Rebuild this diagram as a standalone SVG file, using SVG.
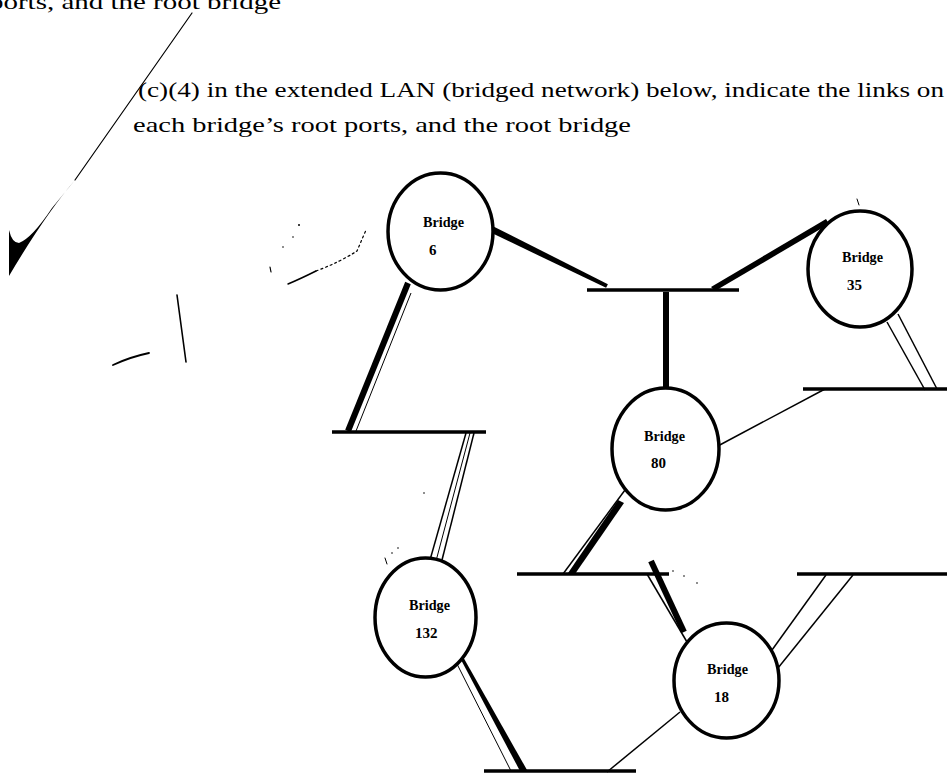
<svg xmlns="http://www.w3.org/2000/svg" width="947" height="773" viewBox="0 0 947 773">
  <style>
    .q { font-family: "Liberation Serif", "DejaVu Serif", serif; font-size: 22px; fill: #000; }
    .lbl { font-family: "Liberation Serif", "DejaVu Serif", serif; font-size: 15px; font-weight: bold; fill: #000; }
    .node { fill: #fff; stroke: #000; stroke-width: 3.5; }
    .lan { stroke: #000; stroke-width: 3.5; fill: none; }
    .thin { stroke: #000; stroke-width: 1.5; fill: none; }
    .hair { stroke: #000; stroke-width: 1; fill: none; }
    .root { stroke: #000; stroke-width: 6; fill: none; stroke-linecap: butt; }
    .mark { stroke: #000; fill: none; stroke-linecap: round; }
  </style>

  <rect width="947" height="773" fill="#fff"/>

  <!-- question text -->
  <text class="q" x="-11" y="9" textLength="292" lengthAdjust="spacingAndGlyphs">ports, and the root bridge</text>
  <text class="q" x="138" y="97" textLength="806" lengthAdjust="spacingAndGlyphs">(c)(4) in the extended LAN (bridged network) below, indicate the links on</text>
  <text class="q" x="133" y="132" textLength="498" lengthAdjust="spacingAndGlyphs">each bridge’s root ports, and the root bridge</text>

  <!-- pen marks -->
  <g id="pen-marks">
    <line class="mark" x1="192" y1="13" x2="75" y2="180" stroke-width="1.2"/>
    <path d="M75 180 Q 45 215 9 276 L 9 230 Q 12 243 19 243 Q 32 238 52 208 Z" fill="#000"/>
    <path class="mark" d="M288 284 Q 300 279 316 271" stroke-width="1.5"/>
    <path class="mark" d="M316 271 Q 340 262 357 251 L 366 230" stroke-width="1.2" stroke-dasharray="2 3"/>
    <circle cx="299" cy="225" r="1" fill="#000"/>
    <circle cx="293" cy="237" r="0.8" fill="#000"/>
    <circle cx="283" cy="247" r="0.8" fill="#000"/>
    <line class="mark" x1="270" y1="267" x2="271" y2="272" stroke-width="1.2"/>
    <line class="mark" x1="177" y1="295" x2="186" y2="362" stroke-width="1.6"/>
    <path class="mark" d="M113 365 Q 130 357 149 353" stroke-width="1.8"/>
    <line class="mark" x1="677" y1="423" x2="689" y2="407" stroke-width="0.8"/>
    <line class="mark" x1="857" y1="199" x2="859" y2="205" stroke-width="1"/>
    <path class="mark" d="M741 629 L 743 634 L 746 629" stroke-width="0.8"/>
    <path class="mark" d="M385 558 L 387 564" stroke-width="1"/>
    <circle cx="392" cy="553" r="0.8" fill="#000"/>
    <circle cx="398" cy="548" r="0.8" fill="#000"/>
    <circle cx="673" cy="571" r="0.8" fill="#000"/>
    <circle cx="684" cy="576" r="0.8" fill="#000"/>
    <circle cx="697" cy="583" r="0.8" fill="#000"/>
    <circle cx="424" cy="493" r="0.8" fill="#000"/>
  </g>

  <!-- connectors: LAN segments and bridge links -->
  <g id="connectors">
    <!-- LAN segments -->
    <line class="lan" x1="587" y1="290" x2="739" y2="290"/>
    <line class="lan" x1="803" y1="389" x2="947" y2="389"/>
    <line class="lan" x1="332" y1="432" x2="486" y2="432"/>
    <line class="lan" x1="517" y1="574" x2="669" y2="574"/>
    <line class="lan" x1="797" y1="574" x2="947" y2="574"/>
    <line class="lan" x1="484" y1="771" x2="636" y2="771"/>

    <!-- Bridge 6 to top LAN (root port) -->
    <polygon points="485.5,230.1 606.1,287.8 607.9,284.2 488.5,223.9" fill="#000"/>
    <!-- Bridge 35 to top LAN (root port) -->
    <polygon points="829,224 715,291 711,287 826,219" fill="#000"/>
    <!-- top LAN to Bridge 80 (root port) -->
    <line class="root" x1="666" y1="292" x2="666" y2="390"/>
    <!-- Bridge 80 to upper right LAN -->
    <line class="thin" x1="716" y1="447" x2="825" y2="389"/>
    <!-- Bridge 35 to upper right LAN -->
    <line class="thin" x1="887" y1="322" x2="925" y2="390"/>
    <line class="thin" x1="898" y1="314" x2="937" y2="389"/>
    <!-- Bridge 6 to left LAN (root port) -->
    <line class="root" x1="408" y1="283" x2="348" y2="431"/>
    <line class="hair" x1="411" y1="293" x2="356" y2="431"/>
    <!-- left LAN to Bridge 132 -->
    <line class="thin" x1="466" y1="433" x2="430" y2="560" stroke-width="2.2"/>
    <line class="hair" x1="470" y1="433" x2="436" y2="561"/>
    <line class="thin" x1="474" y1="433" x2="442" y2="560" stroke-width="2.2"/>
    <!-- Bridge 80 to middle LAN (root port) -->
    <line class="thin" x1="625" y1="490" x2="563" y2="574"/>
    <polygon points="618,500 624,503 575,574 568,573" fill="#000"/>
    <!-- middle LAN to Bridge 18 (root port) -->
    <line class="thin" x1="647" y1="574" x2="687" y2="642"/>
    <line class="root" x1="651" y1="561" x2="684" y2="632"/>
    <!-- Bridge 18 to lower right LAN -->
    <line class="thin" x1="772" y1="650" x2="826" y2="575"/>
    <line class="thin" x1="778" y1="668" x2="853" y2="575"/>
    <!-- Bridge 132 to bottom LAN (root port) -->
    <line class="hair" x1="455" y1="660" x2="511" y2="771"/>
    <polygon points="459,656 462,655 527,770 520,771" fill="#000"/>
    <!-- Bridge 18 to bottom LAN -->
    <line class="thin" x1="680" y1="712" x2="607" y2="772"/>
  </g>

  <g id="bridge-6">
    <ellipse class="node" cx="440.5" cy="231.5" rx="52.5" ry="58.5"/>
    <text class="lbl" x="423" y="227" textLength="41" lengthAdjust="spacingAndGlyphs">Bridge</text>
    <text class="lbl" x="429" y="255">6</text>
  </g>
  <g id="bridge-35">
    <ellipse class="node" cx="860" cy="269" rx="52" ry="58"/>
    <text class="lbl" x="842" y="262" textLength="41" lengthAdjust="spacingAndGlyphs">Bridge</text>
    <text class="lbl" x="847" y="290">35</text>
  </g>
  <g id="bridge-80">
    <ellipse class="node" cx="665.5" cy="449" rx="53.5" ry="61"/>
    <text class="lbl" x="644" y="441" textLength="41" lengthAdjust="spacingAndGlyphs">Bridge</text>
    <text class="lbl" x="651" y="468">80</text>
  </g>
  <g id="bridge-132">
    <ellipse class="node" cx="425.5" cy="617.5" rx="50.5" ry="59.5"/>
    <text class="lbl" x="409" y="610" textLength="41" lengthAdjust="spacingAndGlyphs">Bridge</text>
    <text class="lbl" x="415" y="638">132</text>
  </g>
  <g id="bridge-18">
    <ellipse class="node" cx="726.5" cy="680.5" rx="52.5" ry="57.5"/>
    <text class="lbl" x="707" y="674" textLength="41" lengthAdjust="spacingAndGlyphs">Bridge</text>
    <text class="lbl" x="714" y="702">18</text>
  </g>
</svg>
